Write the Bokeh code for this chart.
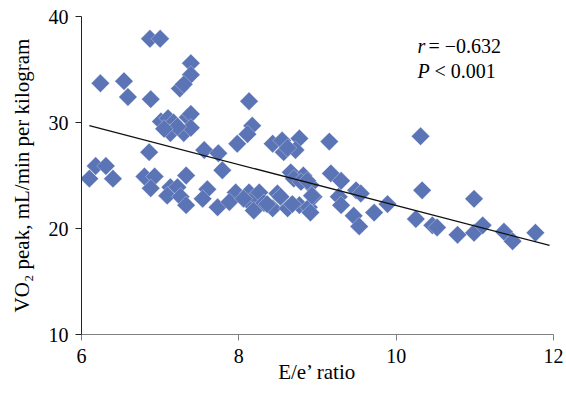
import math
from bokeh.plotting import figure
from bokeh.models import Range1d, Label, FixedTicker, ColumnDataSource
from bokeh.embed import file_html
from bokeh.resources import INLINE

# E/e' ratio (x) and VO2 peak (y)
ee_ratio = [
    6.10, 6.18, 6.31, 6.40, 6.24, 6.54, 6.59, 6.87, 7.00, 6.88, 6.86, 6.80, 6.93, 6.88,
    7.39, 7.39, 7.25, 7.30, 7.01, 7.10, 7.17, 7.35, 7.39, 7.13, 7.30, 7.39, 7.22, 7.05,
    7.33, 7.13, 7.09, 7.22, 7.26, 7.33,
    7.56, 7.74, 7.79, 7.60, 7.54, 7.73, 7.96, 7.88, 7.98,
    8.13, 8.17, 8.11, 8.43, 8.13, 8.17, 8.21, 8.19, 8.26, 8.32, 8.43, 8.36, 8.49, 8.06,
    8.55, 8.57, 8.77, 8.72, 8.66, 8.82, 8.53, 8.70, 8.91, 8.77, 8.89, 8.95, 8.62, 8.68,
    8.79, 8.87, 8.93, 8.91, 8.62,
    9.15, 9.17, 9.30, 9.27, 9.30, 9.46, 9.49, 9.55, 9.53,
    9.72, 9.89,
    10.31, 10.33, 10.25, 10.46, 10.52, 10.78, 10.99, 10.99, 11.10, 11.37, 11.48, 11.77,
]
vo2_peak = [
    24.7, 25.9, 25.9, 24.7, 33.7, 33.9, 32.4, 37.9, 37.9, 32.2, 27.2, 24.9, 24.9, 23.8,
    35.6, 34.5, 33.2, 33.6, 30.1, 30.4, 30.0, 30.5, 30.8, 29.0, 29.0, 29.5, 29.6, 29.4,
    25.0, 23.9, 23.1, 23.9, 23.0, 22.2,
    27.4, 27.1, 25.5, 23.7, 22.8, 22.0, 23.4, 22.5, 28.0,
    32.0, 29.7, 28.9, 28.0, 23.4, 22.2, 23.0, 21.7, 23.4, 22.4, 21.9, 22.3, 23.3, 22.8,
    28.3, 27.2, 28.5, 27.4, 25.3, 25.0, 23.0, 24.7, 24.1, 22.2, 22.0, 23.0, 21.9, 22.3,
    24.4, 24.5, 23.1, 21.5, 27.6,
    28.2, 25.2, 24.5, 23.0, 22.2, 21.2, 23.6, 23.3, 20.2,
    21.5, 22.3,
    28.7, 23.6, 20.9, 20.3, 20.1, 19.4, 22.8, 19.6, 20.3, 19.7, 18.8, 19.6,
]

# regression line end points
fit_x = [6.10, 11.95]
fit_y = [29.7, 18.4]

x_ticks = [6, 8, 10, 12]
y_ticks = [10, 20, 30, 40]

FONT = "Liberation Serif"

p = figure(width=566, height=396, output_backend="svg", toolbar_location=None,
           x_range=Range1d(6, 12), y_range=Range1d(10, 40),
           min_border_left=81, min_border_right=13, min_border_top=16, min_border_bottom=62)
p.outline_line_color = None
p.xgrid.visible = False
p.ygrid.visible = False

src = ColumnDataSource(dict(x=ee_ratio, y=vo2_peak))
p.scatter("x", "y", source=src, marker="square", size=13, angle=math.pi / 4,
          fill_color="#5B74B6", line_color="#FFFFFF", line_width=0.5, line_alpha=0.6)
p.line(fit_x, fit_y, line_color="#111111", line_width=1.3)

for ax in (p.xaxis[0], p.yaxis[0]):
    ax.minor_tick_line_color = None
    ax.major_tick_in = 0
    ax.major_tick_out = 6
    ax.major_label_text_font = FONT
    ax.major_label_text_font_size = "20px"
    ax.major_label_text_color = "#000000"
    ax.axis_label_text_font = FONT
    ax.axis_label_text_font_size = "21px"
    ax.axis_label_text_font_style = "normal"
    ax.axis_label_text_color = "#000000"

p.xaxis.ticker = FixedTicker(ticks=x_ticks)
p.yaxis.ticker = FixedTicker(ticks=y_ticks)
p.xaxis.axis_label = "E/e\u2019 ratio"
p.yaxis.axis_label = "VO\u2082 peak, mL/min per kilogram"
p.xaxis.axis_line_color = "#808080"
p.xaxis.major_tick_line_color = "#808080"
p.yaxis.axis_line_color = "#222222"
p.yaxis.major_tick_line_color = "#222222"
p.xaxis.major_label_standoff = 8
p.xaxis.axis_label_standoff = -6
p.yaxis.major_label_standoff = 7
p.yaxis.axis_label_standoff = 12

ann_x = 10.27
for yv, it, rest, off in [(37.26, "r", "= \u22120.632", 11), (34.9, "P", "< 0.001", 17)]:
    p.add_layout(Label(x=ann_x, y=yv, text=it, text_font=FONT, text_font_size="20px",
                       text_font_style="italic", text_baseline="alphabetic", text_color="#000000"))
    p.add_layout(Label(x=ann_x, y=yv, x_offset=off, text=rest, text_font=FONT, text_font_size="20px",
                       text_baseline="alphabetic", text_color="#000000"))

open("out.html", "w").write(file_html(p, INLINE))
